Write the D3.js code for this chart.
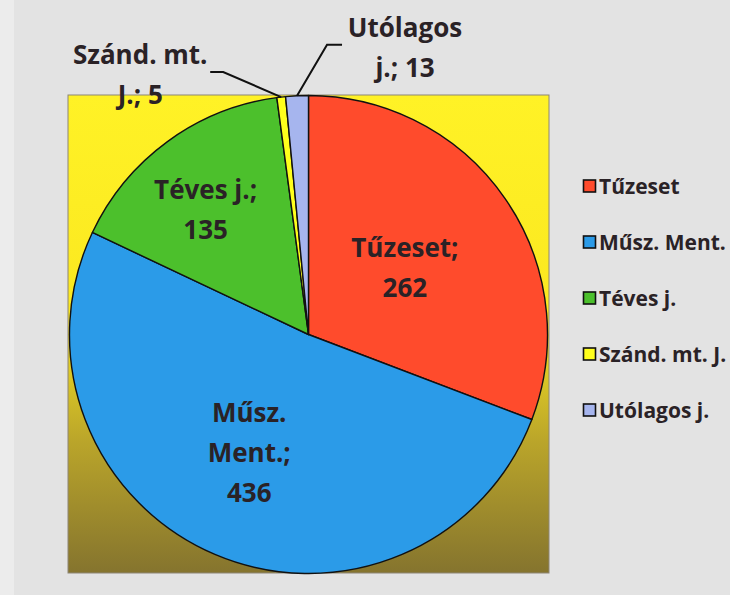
<!DOCTYPE html>
<html>
<head>
<meta charset="utf-8">
<script src="https://cdn.jsdelivr.net/npm/d3@7/dist/d3.min.js"></script>
<style>
  html, body { margin: 0; padding: 0; background: #e4e4e4; }
  svg { display: block; }
</style>
</head>
<body>
<svg id="chart"></svg>
<script>
// data
var categories = ['Tűzeset', 'Műsz. Ment.', 'Téves j.', 'Szánd. mt. J.', 'Utólagos j.'];
var values = [262, 436, 135, 5, 13];
var colors = ['#ff4b2c', '#2b9be8', '#4cc02c', '#ffff1c', '#a6b5ee'];

// layout
var config = {
    width: 730,
    height: 595,
    plot: { x: 68, y: 95, w: 481, h: 478 },
    cx: 308.5,
    cy: 334.5,
    radius: 239,
    fontFamily: '"Open Sans", Lato, sans-serif',
    textColor: '#2a2226'
};
// where each inside label sits (fraction of radius) plus a small nudge
var labelRadius = [0.49, 0.58, 0.68, null, null];
var labelNudge = [[0, 0], [-5, -9], [-7, 7], [0, 0], [0, 0]];
var wrapWidth = [120, 90, 120, 150, 130];
// outside labels: elbow and end of leader line, label centre, relative to the slice edge
var leaders = {
    3: { elbow: [-58, -25], end: [-71, -25], text: [-141, -22] },
    4: { elbow: [30, -51], end: [45, -51], text: [108, -48] }
};

var d3svg = d3.select('#chart')
    .attr('width', config.width)
    .attr('height', config.height);

// page background, slightly lighter edge like the scan
d3svg.append('rect')
    .attr('width', config.width).attr('height', config.height)
    .attr('fill', '#e3e3e3');
d3svg.append('rect')
    .attr('width', 14).attr('height', config.height)
    .attr('fill', '#ececec');

var defs = d3svg.append('defs');
var grad = defs.append('linearGradient')
    .attr('id', 'plotGrad')
    .attr('x1', 0).attr('y1', 0).attr('x2', 0).attr('y2', 1);
grad.append('stop').attr('offset', '0%').attr('stop-color', '#fff226');
grad.append('stop').attr('offset', '45%').attr('stop-color', '#fbe820');
grad.append('stop').attr('offset', '72%').attr('stop-color', '#bba62a');
grad.append('stop').attr('offset', '100%').attr('stop-color', '#85742e');

d3svg.append('rect')
    .attr('x', config.plot.x).attr('y', config.plot.y)
    .attr('width', config.plot.w).attr('height', config.plot.h)
    .attr('fill', 'url(#plotGrad)')
    .attr('stroke', '#8d8676')
    .attr('stroke-width', 1);

var pie = d3.pie().sort(null).value(function(d) { return d; });
var arcs = pie(values);
var arc = d3.arc().innerRadius(0).outerRadius(config.radius);

var g = d3svg.append('g')
    .attr('transform', 'translate(' + config.cx + ',' + config.cy + ')');

g.selectAll('path.slice')
    .data(arcs)
    .enter()
    .append('path')
    .attr('class', 'slice')
    .attr('d', arc)
    .attr('fill', function(d, i) { return colors[i]; })
    .attr('stroke', '#111')
    .attr('stroke-width', 1.4)
    .attr('stroke-linejoin', 'round');

function wrapLines(text, maxW, size) {
    var probe = d3svg.append('text')
        .attr('font-family', config.fontFamily)
        .attr('font-weight', 'bold')
        .attr('font-size', size);
    var words = text.split(' ');
    var lines = [];
    var cur = '';
    words.forEach(function(w) {
        var test = cur ? cur + ' ' + w : w;
        probe.text(test);
        if (cur && probe.node().getComputedTextLength() > maxW) {
            lines.push(cur);
            cur = w;
        } else {
            cur = test;
        }
    });
    if (cur) lines.push(cur);
    probe.remove();
    return lines;
}

function drawLabel(parent, x, y, lines) {
    var lineH = 40;
    var top = y - (lines.length - 1) * lineH / 2;
    var t = parent.append('text')
        .attr('font-family', config.fontFamily)
        .attr('font-weight', 'bold')
        .attr('font-size', 26)
        .attr('fill', config.textColor)
        .attr('text-anchor', 'middle');
    lines.forEach(function(l, k) {
        t.append('tspan')
            .attr('x', x)
            .attr('y', top + k * lineH)
            .attr('dy', '0.35em')
            .text(l);
    });
}

var labelLayer = d3svg.append('g')
    .attr('transform', 'translate(' + config.cx + ',' + config.cy + ')');

arcs.forEach(function(d, i) {
    var txt = categories[i] + '; ' + values[i];
    var lines = wrapLines(txt, wrapWidth[i], 26);
    if (labelRadius[i] !== null) {
        var r = config.radius * labelRadius[i];
        var c = d3.arc().innerRadius(r).outerRadius(r).centroid(d);
        drawLabel(labelLayer, c[0] + labelNudge[i][0], c[1] + labelNudge[i][1], lines);
    } else {
        var mid = (d.startAngle + d.endAngle) / 2;
        var p = [config.radius * Math.sin(mid), -config.radius * Math.cos(mid)];
        var L = leaders[i];
        labelLayer.append('polyline')
            .attr('points', [p, [p[0] + L.elbow[0], p[1] + L.elbow[1]], [p[0] + L.end[0], p[1] + L.end[1]]]
                .map(function(q) { return q.join(','); }).join(' '))
            .attr('fill', 'none')
            .attr('stroke', '#111')
            .attr('stroke-width', 2);
        drawLabel(labelLayer, p[0] + L.text[0], p[1] + L.text[1], lines);
    }
});

// legend
var legend = d3svg.append('g')
    .attr('transform', 'translate(583,186)');
var item = legend.selectAll('g.item')
    .data(categories)
    .enter()
    .append('g')
    .attr('class', 'item')
    .attr('transform', function(d, i) { return 'translate(0,' + (i * 56) + ')'; });
item.append('rect')
    .attr('x', 0.5).attr('y', -6)
    .attr('width', 12).attr('height', 12)
    .attr('fill', function(d, i) { return colors[i]; })
    .attr('stroke', '#111')
    .attr('stroke-width', 1.6);
item.append('text')
    .attr('x', 16)
    .attr('dy', '0.36em')
    .attr('font-family', config.fontFamily)
    .attr('font-weight', 'bold')
    .attr('font-size', 21)
    .attr('fill', config.textColor)
    .text(function(d) { return d; });
</script>
</body>
</html>
